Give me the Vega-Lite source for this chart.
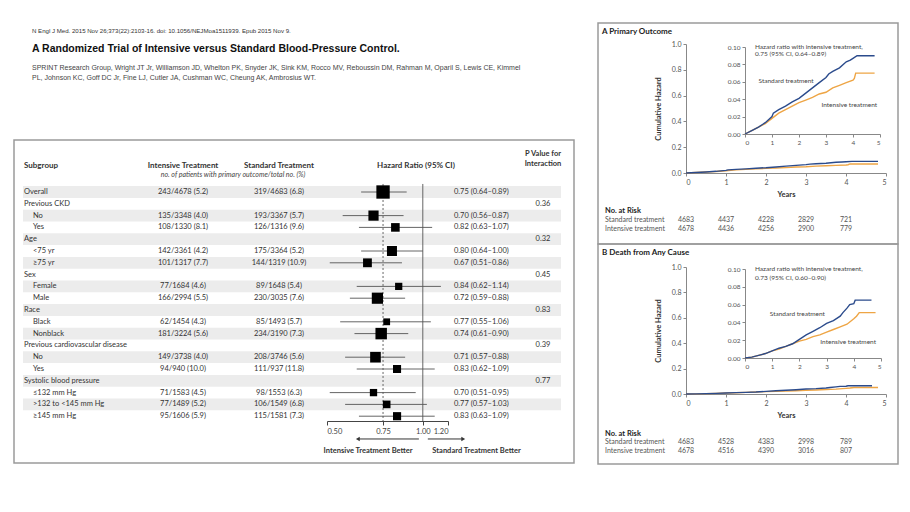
{
  "$schema": "https://vega.github.io/schema/vega-lite/v6.json",
  "background": "white",
  "padding": {"left": 13, "top": 22, "right": 0, "bottom": 0},
  "config": {
    "view": {"stroke": null},
    "axis": {"grid": false, "labelFont": "Lato", "titleFont": "Lato", "labelColor": "#555", "titleColor": "#333", "domainColor": "#888", "tickColor": "#888", "labelFontSize": 6.5, "tickSize": 3, "labelPadding": 2},
    "text": {"font": "Lato", "color": "#333"}
  },
  "datasets": {
    "forest": [
      {"i": 0, "label": "Overall", "lvl": 0, "int": "243/4678 (5.2)", "std": "319/4683 (6.8)", "hr": 0.75, "lo": 0.64, "hi": 0.89, "txt": "0.75 (0.64–0.89)", "ev": 562},
      {"i": 1, "label": "Previous CKD", "lvl": 0, "p": "0.36"},
      {"i": 2, "label": "No", "lvl": 1, "int": "135/3348 (4.0)", "std": "193/3367 (5.7)", "hr": 0.70, "lo": 0.56, "hi": 0.87, "txt": "0.70 (0.56–0.87)", "ev": 328},
      {"i": 3, "label": "Yes", "lvl": 1, "int": "108/1330 (8.1)", "std": "126/1316 (9.6)", "hr": 0.82, "lo": 0.63, "hi": 1.07, "txt": "0.82 (0.63–1.07)", "ev": 234},
      {"i": 4, "label": "Age", "lvl": 0, "p": "0.32"},
      {"i": 5, "label": "<75 yr", "lvl": 1, "int": "142/3361 (4.2)", "std": "175/3364 (5.2)", "hr": 0.80, "lo": 0.64, "hi": 1.00, "txt": "0.80 (0.64–1.00)", "ev": 317},
      {"i": 6, "label": "≥75 yr", "lvl": 1, "int": "101/1317 (7.7)", "std": "144/1319 (10.9)", "hr": 0.67, "lo": 0.51, "hi": 0.86, "txt": "0.67 (0.51–0.86)", "ev": 245},
      {"i": 7, "label": "Sex", "lvl": 0, "p": "0.45"},
      {"i": 8, "label": "Female", "lvl": 1, "int": "77/1684 (4.6)", "std": "89/1648 (5.4)", "hr": 0.84, "lo": 0.62, "hi": 1.14, "txt": "0.84 (0.62–1.14)", "ev": 166},
      {"i": 9, "label": "Male", "lvl": 1, "int": "166/2994 (5.5)", "std": "230/3035 (7.6)", "hr": 0.72, "lo": 0.59, "hi": 0.88, "txt": "0.72 (0.59–0.88)", "ev": 396},
      {"i": 10, "label": "Race", "lvl": 0, "p": "0.83"},
      {"i": 11, "label": "Black", "lvl": 1, "int": "62/1454 (4.3)", "std": "85/1493 (5.7)", "hr": 0.77, "lo": 0.55, "hi": 1.06, "txt": "0.77 (0.55–1.06)", "ev": 147},
      {"i": 12, "label": "Nonblack", "lvl": 1, "int": "181/3224 (5.6)", "std": "234/3190 (7.3)", "hr": 0.74, "lo": 0.61, "hi": 0.90, "txt": "0.74 (0.61–0.90)", "ev": 415},
      {"i": 13, "label": "Previous cardiovascular disease", "lvl": 0, "p": "0.39"},
      {"i": 14, "label": "No", "lvl": 1, "int": "149/3738 (4.0)", "std": "208/3746 (5.6)", "hr": 0.71, "lo": 0.57, "hi": 0.88, "txt": "0.71 (0.57–0.88)", "ev": 357},
      {"i": 15, "label": "Yes", "lvl": 1, "int": "94/940 (10.0)", "std": "111/937 (11.8)", "hr": 0.83, "lo": 0.62, "hi": 1.09, "txt": "0.83 (0.62–1.09)", "ev": 205},
      {"i": 16, "label": "Systolic blood pressure", "lvl": 0, "p": "0.77"},
      {"i": 17, "label": "≤132 mm Hg", "lvl": 1, "int": "71/1583 (4.5)", "std": "98/1553 (6.3)", "hr": 0.70, "lo": 0.51, "hi": 0.95, "txt": "0.70 (0.51–0.95)", "ev": 169},
      {"i": 18, "label": ">132 to <145 mm Hg", "lvl": 1, "int": "77/1489 (5.2)", "std": "106/1549 (6.8)", "hr": 0.77, "lo": 0.57, "hi": 1.03, "txt": "0.77 (0.57–1.03)", "ev": 183},
      {"i": 19, "label": "≥145 mm Hg", "lvl": 1, "int": "95/1606 (5.9)", "std": "115/1581 (7.3)", "hr": 0.83, "lo": 0.63, "hi": 1.09, "txt": "0.83 (0.63–1.09)", "ev": 210}
    ],
    "kmA": [
      {"arm": "Intensive treatment", "t": 0, "h": 0}, {"arm": "Intensive treatment", "t": 0.25, "h": 0.004}, {"arm": "Intensive treatment", "t": 0.5, "h": 0.008}, {"arm": "Intensive treatment", "t": 0.75, "h": 0.012}, {"arm": "Intensive treatment", "t": 1.0, "h": 0.018}, {"arm": "Intensive treatment", "t": 1.25, "h": 0.024}, {"arm": "Intensive treatment", "t": 1.5, "h": 0.028}, {"arm": "Intensive treatment", "t": 1.75, "h": 0.032}, {"arm": "Intensive treatment", "t": 2.0, "h": 0.036}, {"arm": "Intensive treatment", "t": 2.25, "h": 0.039}, {"arm": "Intensive treatment", "t": 2.5, "h": 0.042}, {"arm": "Intensive treatment", "t": 2.75, "h": 0.046}, {"arm": "Intensive treatment", "t": 3.0, "h": 0.048}, {"arm": "Intensive treatment", "t": 3.25, "h": 0.053}, {"arm": "Intensive treatment", "t": 3.5, "h": 0.056}, {"arm": "Intensive treatment", "t": 3.75, "h": 0.059}, {"arm": "Intensive treatment", "t": 4.0, "h": 0.062}, {"arm": "Intensive treatment", "t": 4.05, "h": 0.064}, {"arm": "Intensive treatment", "t": 4.1, "h": 0.070}, {"arm": "Intensive treatment", "t": 4.8, "h": 0.070},
      {"arm": "Standard treatment", "t": 0, "h": 0}, {"arm": "Standard treatment", "t": 0.25, "h": 0.004}, {"arm": "Standard treatment", "t": 0.5, "h": 0.008}, {"arm": "Standard treatment", "t": 0.75, "h": 0.013}, {"arm": "Standard treatment", "t": 1.0, "h": 0.020}, {"arm": "Standard treatment", "t": 1.05, "h": 0.024}, {"arm": "Standard treatment", "t": 1.25, "h": 0.028}, {"arm": "Standard treatment", "t": 1.5, "h": 0.032}, {"arm": "Standard treatment", "t": 1.75, "h": 0.037}, {"arm": "Standard treatment", "t": 2.0, "h": 0.041}, {"arm": "Standard treatment", "t": 2.25, "h": 0.047}, {"arm": "Standard treatment", "t": 2.5, "h": 0.053}, {"arm": "Standard treatment", "t": 2.75, "h": 0.059}, {"arm": "Standard treatment", "t": 3.0, "h": 0.065}, {"arm": "Standard treatment", "t": 3.1, "h": 0.069}, {"arm": "Standard treatment", "t": 3.25, "h": 0.072}, {"arm": "Standard treatment", "t": 3.5, "h": 0.076}, {"arm": "Standard treatment", "t": 3.75, "h": 0.083}, {"arm": "Standard treatment", "t": 3.9, "h": 0.085}, {"arm": "Standard treatment", "t": 4.0, "h": 0.087}, {"arm": "Standard treatment", "t": 4.15, "h": 0.090}, {"arm": "Standard treatment", "t": 4.8, "h": 0.090}
    ],
    "kmB": [
      {"arm": "Intensive treatment", "t": 0, "h": 0}, {"arm": "Intensive treatment", "t": 0.25, "h": 0.001}, {"arm": "Intensive treatment", "t": 0.5, "h": 0.003}, {"arm": "Intensive treatment", "t": 0.75, "h": 0.005}, {"arm": "Intensive treatment", "t": 1.0, "h": 0.008}, {"arm": "Intensive treatment", "t": 1.25, "h": 0.010}, {"arm": "Intensive treatment", "t": 1.5, "h": 0.013}, {"arm": "Intensive treatment", "t": 1.75, "h": 0.016}, {"arm": "Intensive treatment", "t": 2.0, "h": 0.019}, {"arm": "Intensive treatment", "t": 2.25, "h": 0.021}, {"arm": "Intensive treatment", "t": 2.5, "h": 0.024}, {"arm": "Intensive treatment", "t": 2.75, "h": 0.026}, {"arm": "Intensive treatment", "t": 3.0, "h": 0.029}, {"arm": "Intensive treatment", "t": 3.25, "h": 0.032}, {"arm": "Intensive treatment", "t": 3.5, "h": 0.035}, {"arm": "Intensive treatment", "t": 3.75, "h": 0.038}, {"arm": "Intensive treatment", "t": 4.0, "h": 0.044}, {"arm": "Intensive treatment", "t": 4.1, "h": 0.047}, {"arm": "Intensive treatment", "t": 4.2, "h": 0.051}, {"arm": "Intensive treatment", "t": 4.8, "h": 0.051},
      {"arm": "Standard treatment", "t": 0, "h": 0}, {"arm": "Standard treatment", "t": 0.25, "h": 0.001}, {"arm": "Standard treatment", "t": 0.5, "h": 0.003}, {"arm": "Standard treatment", "t": 0.75, "h": 0.005}, {"arm": "Standard treatment", "t": 1.0, "h": 0.008}, {"arm": "Standard treatment", "t": 1.25, "h": 0.011}, {"arm": "Standard treatment", "t": 1.5, "h": 0.013}, {"arm": "Standard treatment", "t": 1.75, "h": 0.016}, {"arm": "Standard treatment", "t": 2.0, "h": 0.021}, {"arm": "Standard treatment", "t": 2.25, "h": 0.026}, {"arm": "Standard treatment", "t": 2.5, "h": 0.030}, {"arm": "Standard treatment", "t": 2.75, "h": 0.034}, {"arm": "Standard treatment", "t": 3.0, "h": 0.039}, {"arm": "Standard treatment", "t": 3.25, "h": 0.042}, {"arm": "Standard treatment", "t": 3.5, "h": 0.047}, {"arm": "Standard treatment", "t": 3.6, "h": 0.051}, {"arm": "Standard treatment", "t": 3.75, "h": 0.056}, {"arm": "Standard treatment", "t": 3.85, "h": 0.060}, {"arm": "Standard treatment", "t": 4.0, "h": 0.061}, {"arm": "Standard treatment", "t": 4.05, "h": 0.065}, {"arm": "Standard treatment", "t": 4.65, "h": 0.065}
    ],
    "riskA": [
      {"arm": "Standard treatment", "t": 0, "n": "4683"}, {"arm": "Standard treatment", "t": 1, "n": "4437"}, {"arm": "Standard treatment", "t": 2, "n": "4228"}, {"arm": "Standard treatment", "t": 3, "n": "2829"}, {"arm": "Standard treatment", "t": 4, "n": "721"},
      {"arm": "Intensive treatment", "t": 0, "n": "4678"}, {"arm": "Intensive treatment", "t": 1, "n": "4436"}, {"arm": "Intensive treatment", "t": 2, "n": "4256"}, {"arm": "Intensive treatment", "t": 3, "n": "2900"}, {"arm": "Intensive treatment", "t": 4, "n": "779"}
    ],
    "riskB": [
      {"arm": "Standard treatment", "t": 0, "n": "4683"}, {"arm": "Standard treatment", "t": 1, "n": "4528"}, {"arm": "Standard treatment", "t": 2, "n": "4383"}, {"arm": "Standard treatment", "t": 3, "n": "2998"}, {"arm": "Standard treatment", "t": 4, "n": "789"},
      {"arm": "Intensive treatment", "t": 0, "n": "4678"}, {"arm": "Intensive treatment", "t": 1, "n": "4516"}, {"arm": "Intensive treatment", "t": 2, "n": "4390"}, {"arm": "Intensive treatment", "t": 3, "n": "3016"}, {"arm": "Intensive treatment", "t": 4, "n": "807"}
    ]
  },
  "hconcat": [
    {
      "vconcat": [
        {
          "width": 560, "height": 60,
          "data": {"values": [{}]},
          "layer": [
            {"mark": {"type": "text", "align": "left", "font": "Liberation Sans", "fontSize": 6.1, "color": "#333", "text": "N Engl J Med. 2015 Nov 26;373(22):2103-16. doi: 10.1056/NEJMoa1511939. Epub 2015 Nov 9."},
             "encoding": {"x": {"datum": 18, "type": "quantitative", "scale": {"domain": [0, 560], "nice": false, "zero": false}, "axis": null}, "y": {"datum": 8, "type": "quantitative", "scale": {"domain": [0, 60], "reverse": true, "nice": false, "zero": false}, "axis": null}}},
            {"mark": {"type": "text", "align": "left", "font": "Liberation Sans", "fontSize": 10.5, "fontWeight": "bold", "color": "#111", "text": "A Randomized Trial of Intensive versus Standard Blood-Pressure Control."},
             "encoding": {"x": {"datum": 18, "type": "quantitative"}, "y": {"datum": 26, "type": "quantitative"}}},
            {"mark": {"type": "text", "align": "left", "baseline": "top", "font": "Liberation Sans", "fontSize": 7, "lineHeight": 10, "color": "#444", "text": ["SPRINT Research Group, Wright JT Jr, Williamson JD, Whelton PK, Snyder JK, Sink KM, Rocco MV, Reboussin DM, Rahman M, Oparil S, Lewis CE, Kimmel", "PL, Johnson KC, Goff DC Jr, Fine LJ, Cutler JA, Cushman WC, Cheung AK, Ambrosius WT."]},
             "encoding": {"x": {"datum": 18, "type": "quantitative"}, "y": {"datum": 41, "type": "quantitative"}}}
          ]
        },
        {
          "width": 560, "height": 323,
          "view": {"stroke": "#9a9a9a", "strokeWidth": 1.5},
          "data": {"name": "forest"},
          "layer": [
            {
              "layer": [
                {"transform": [{"filter": "datum.i % 2 === 0"}],
                 "mark": {"type": "rule", "strokeWidth": 11.8, "color": "#ececec"},
                 "encoding": {"x": {"datum": 9, "type": "quantitative", "scale": {"domain": [0, 560], "nice": false, "zero": false}, "axis": null}, "x2": {"datum": 547},
                              "y": {"field": "i", "type": "quantitative", "scale": {"domain": [-4.407, 22.966], "reverse": true, "nice": false, "zero": false}, "axis": null}}},
                {"transform": [{"filter": "datum.lvl === 0"}],
                 "mark": {"type": "text", "align": "left", "fontSize": 7.5},
                 "encoding": {"x": {"datum": 10, "type": "quantitative"}, "y": {"field": "i", "type": "quantitative"}, "text": {"field": "label"}}},
                {"transform": [{"filter": "datum.lvl === 1"}],
                 "mark": {"type": "text", "align": "left", "fontSize": 7.5},
                 "encoding": {"x": {"datum": 19, "type": "quantitative"}, "y": {"field": "i", "type": "quantitative"}, "text": {"field": "label"}}},
                {"transform": [{"filter": "isValid(datum.int)"}],
                 "mark": {"type": "text", "fontSize": 7.5},
                 "encoding": {"x": {"datum": 169, "type": "quantitative"}, "y": {"field": "i", "type": "quantitative"}, "text": {"field": "int"}}},
                {"transform": [{"filter": "isValid(datum.std)"}],
                 "mark": {"type": "text", "fontSize": 7.5},
                 "encoding": {"x": {"datum": 265, "type": "quantitative"}, "y": {"field": "i", "type": "quantitative"}, "text": {"field": "std"}}},
                {"transform": [{"filter": "isValid(datum.txt)"}],
                 "mark": {"type": "text", "align": "left", "fontSize": 7.5},
                 "encoding": {"x": {"datum": 440, "type": "quantitative"}, "y": {"field": "i", "type": "quantitative"}, "text": {"field": "txt"}}},
                {"transform": [{"filter": "isValid(datum.p)"}],
                 "mark": {"type": "text", "fontSize": 7.5},
                 "encoding": {"x": {"datum": 529, "type": "quantitative"}, "y": {"field": "i", "type": "quantitative"}, "text": {"field": "p"}}},
                {"data": {"values": [{}]}, "mark": {"type": "text", "align": "left", "fontSize": 8, "fontWeight": "bold", "text": "Subgroup"},
                 "encoding": {"x": {"datum": 10, "type": "quantitative"}, "y": {"datum": -2.2, "type": "quantitative"}}},
                {"data": {"values": [{}]}, "mark": {"type": "text", "fontSize": 8, "fontWeight": "bold", "text": "Intensive Treatment"},
                 "encoding": {"x": {"datum": 169, "type": "quantitative"}, "y": {"datum": -2.2, "type": "quantitative"}}},
                {"data": {"values": [{}]}, "mark": {"type": "text", "fontSize": 8, "fontWeight": "bold", "text": "Standard Treatment"},
                 "encoding": {"x": {"datum": 265, "type": "quantitative"}, "y": {"datum": -2.2, "type": "quantitative"}}},
                {"data": {"values": [{}]}, "mark": {"type": "text", "fontSize": 8, "fontWeight": "bold", "text": "Hazard Ratio (95% CI)"},
                 "encoding": {"x": {"datum": 402, "type": "quantitative"}, "y": {"datum": -2.2, "type": "quantitative"}}},
                {"data": {"values": [{}]}, "mark": {"type": "text", "fontSize": 7.5, "fontWeight": "bold", "text": "P Value for"},
                 "encoding": {"x": {"datum": 529, "type": "quantitative"}, "y": {"datum": -3.2, "type": "quantitative"}}},
                {"data": {"values": [{}]}, "mark": {"type": "text", "fontSize": 7.5, "fontWeight": "bold", "text": "Interaction"},
                 "encoding": {"x": {"datum": 529, "type": "quantitative"}, "y": {"datum": -2.4, "type": "quantitative"}}},
                {"data": {"values": [{}]}, "mark": {"type": "text", "fontSize": 7, "fontStyle": "italic", "color": "#444", "text": "no. of patients with primary outcome/total no. (%)"},
                 "encoding": {"x": {"datum": 219, "type": "quantitative"}, "y": {"datum": -1.44, "type": "quantitative"}}}
              ]
            },
            {
              "layer": [
                {"transform": [{"filter": "isValid(datum.hr)"}],
                 "mark": {"type": "rule", "color": "#555", "strokeWidth": 0.9},
                 "encoding": {
                   "x": {"field": "lo", "type": "quantitative", "scale": {"type": "log", "domain": [0.5, 1.2], "range": [313, 434], "nice": false},
                         "axis": {"orient": "bottom", "offset": -42, "values": [0.5, 0.75, 1, 1.2], "format": ".2f", "title": null, "tickSize": 4, "labelFontSize": 7.5, "labelColor": "#444", "domainColor": "#444", "tickColor": "#444"}},
                   "x2": {"field": "hi"},
                   "y": {"field": "i", "type": "quantitative"}}},
                {"data": {"values": [{}]}, "mark": {"type": "rule", "color": "#555", "strokeWidth": 0.9},
                 "encoding": {"x": {"datum": 1, "type": "quantitative"}, "y": {"datum": -0.68, "type": "quantitative"}, "y2": {"datum": 19.41}}},
                {"data": {"values": [{}]}, "mark": {"type": "rule", "color": "#555", "strokeWidth": 0.9, "strokeDash": [2, 2]},
                 "encoding": {"x": {"datum": 0.75, "type": "quantitative"}, "y": {"datum": -0.68, "type": "quantitative"}, "y2": {"datum": 19.41}}},
                {"transform": [{"filter": "isValid(datum.hr)"}],
                 "mark": {"type": "point", "shape": "square", "filled": true, "color": "#000", "opacity": 1},
                 "encoding": {"x": {"field": "hr", "type": "quantitative"}, "y": {"field": "i", "type": "quantitative"},
                              "size": {"field": "ev", "type": "quantitative", "scale": {"domain": [0, 600], "range": [0, 190]}, "legend": null}}},
                {"data": {"values": [{}]}, "mark": {"type": "rule", "color": "#333", "strokeWidth": 1},
                 "encoding": {"x": {"datum": 0.63, "type": "quantitative"}, "x2": {"datum": 0.972}, "y": {"datum": 20.93, "type": "quantitative"}}},
                {"data": {"values": [{}]}, "mark": {"type": "rule", "color": "#333", "strokeWidth": 1},
                 "encoding": {"x": {"datum": 1.037, "type": "quantitative"}, "x2": {"datum": 1.33}, "y": {"datum": 20.93, "type": "quantitative"}}},
                {"data": {"values": [{}]}, "mark": {"type": "point", "shape": "triangle-left", "filled": true, "color": "#333", "size": 20, "opacity": 1},
                 "encoding": {"x": {"datum": 0.625, "type": "quantitative"}, "y": {"datum": 20.93, "type": "quantitative"}}},
                {"data": {"values": [{}]}, "mark": {"type": "point", "shape": "triangle-right", "filled": true, "color": "#333", "size": 20, "opacity": 1},
                 "encoding": {"x": {"datum": 1.34, "type": "quantitative"}, "y": {"datum": 20.93, "type": "quantitative"}}},
                {"data": {"values": [{}]}, "mark": {"type": "text", "fontSize": 7.5, "fontWeight": "bold", "text": "Intensive Treatment Better"},
                 "encoding": {"x": {"datum": 0.673, "type": "quantitative"}, "y": {"datum": 21.95, "type": "quantitative"}}},
                {"data": {"values": [{}]}, "mark": {"type": "text", "fontSize": 7.5, "fontWeight": "bold", "text": "Standard Treatment Better"},
                 "encoding": {"x": {"datum": 1.475, "type": "quantitative"}, "y": {"datum": 21.95, "type": "quantitative"}}}
              ]
            }
          ],
          "resolve": {"scale": {"x": "independent"}, "axis": {"x": "independent"}}
        }
      ],
      "spacing": 57,
      "bounds": "flush"
    },
    {
      "vconcat": [
        {
          "width": 300, "height": 221,
          "view": {"stroke": "#9a9a9a", "strokeWidth": 1.5},
          "layer": [
            {
              "layer": [
                {"data": {"name": "kmA"}, "mark": {"type": "line", "strokeWidth": 1.4},
                 "encoding": {
                   "x": {"field": "t", "type": "quantitative", "scale": {"domain": [0, 5], "range": [88, 288], "nice": false, "zero": false},
                         "axis": {"orient": "bottom", "offset": -71, "values": [0, 1, 2, 3, 4, 5], "format": "d", "title": "Years", "titleFontWeight": "bold", "titleFontSize": 7.5, "titlePadding": 5, "labelFontSize": 7}},
                   "y": {"field": "h", "type": "quantitative", "scale": {"domain": [0, 1], "range": [150, 21], "nice": false, "zero": false},
                         "axis": {"orient": "left", "offset": -88, "values": [0, 0.2, 0.4, 0.6, 0.8, 1], "format": ".1f", "title": "Cumulative Hazard", "titleFontWeight": "bold", "titleFontSize": 7.5, "titlePadding": 9, "labelFontSize": 7}},
                   "color": {"field": "arm", "type": "nominal", "scale": {"domain": ["Standard treatment", "Intensive treatment"], "range": ["#2b4b8c", "#eea545"]}, "legend": null}}},
                {"data": {"name": "riskA"}, "mark": {"type": "text", "fontSize": 7, "color": "#555"},
                 "encoding": {"x": {"field": "t", "type": "quantitative"},
                              "y": {"field": "arm", "type": "nominal", "scale": {"domain": ["Standard treatment", "Intensive treatment"], "range": [197, 206], "padding": 0}, "axis": null},
                              "text": {"field": "n", "type": "nominal"}}}
              ],
              "resolve": {"scale": {"y": "independent"}, "axis": {"y": "independent"}}
            },
            {
              "layer": [
                {"data": {"name": "kmA"}, "mark": {"type": "line", "strokeWidth": 1.4},
                 "encoding": {
                   "x": {"field": "t", "type": "quantitative", "scale": {"domain": [0, 5], "range": [147, 282], "nice": false, "zero": false},
                         "axis": {"orient": "bottom", "offset": -110, "values": [0, 1, 2, 3, 4, 5], "format": "d", "title": null}},
                   "y": {"field": "h", "type": "quantitative", "scale": {"domain": [0, 0.1], "range": [111, 24], "nice": false, "zero": false},
                         "axis": {"orient": "left", "offset": -147, "values": [0, 0.02, 0.04, 0.06, 0.08, 0.1], "format": ".2f", "title": null}},
                   "color": {"field": "arm", "type": "nominal", "legend": null}}},
                {"data": {"values": [{}]}, "mark": {"type": "text", "align": "left", "fontSize": 6.5, "color": "#444", "text": "Hazard ratio with intensive treatment,"},
                 "encoding": {"x": {"datum": 0.37, "type": "quantitative"}, "y": {"datum": 0.1, "type": "quantitative"}}},
                {"data": {"values": [{}]}, "mark": {"type": "text", "align": "left", "fontSize": 6.5, "color": "#444", "text": "0.75 (95% CI, 0.64–0.89)"},
                 "encoding": {"x": {"datum": 0.37, "type": "quantitative"}, "y": {"datum": 0.0915, "type": "quantitative"}}},
                {"data": {"values": [{}]}, "mark": {"type": "text", "align": "left", "fontSize": 6.5, "color": "#444", "text": "Standard treatment"},
                 "encoding": {"x": {"datum": 0.5, "type": "quantitative"}, "y": {"datum": 0.061, "type": "quantitative"}}},
                {"data": {"values": [{}]}, "mark": {"type": "text", "align": "left", "fontSize": 6.5, "color": "#444", "text": "Intensive treatment"},
                 "encoding": {"x": {"datum": 2.83, "type": "quantitative"}, "y": {"datum": 0.0335, "type": "quantitative"}}}
              ]
            },
            {
              "data": {"values": [{}]},
              "layer": [
                {"mark": {"type": "text", "align": "left", "fontSize": 8, "fontWeight": "bold", "color": "#222", "text": "A  Primary Outcome"},
                 "encoding": {"x": {"datum": 4, "type": "quantitative", "scale": {"domain": [0, 300], "nice": false, "zero": false}, "axis": null},
                              "y": {"datum": 9, "type": "quantitative", "scale": {"domain": [0, 221], "reverse": true, "nice": false, "zero": false}, "axis": null}}},
                {"mark": {"type": "text", "align": "left", "fontSize": 7.5, "fontWeight": "bold", "color": "#222", "text": "No. at Risk"},
                 "encoding": {"x": {"datum": 7, "type": "quantitative"}, "y": {"datum": 188, "type": "quantitative"}}},
                {"mark": {"type": "text", "align": "left", "fontSize": 7, "color": "#555", "text": "Standard treatment"},
                 "encoding": {"x": {"datum": 7, "type": "quantitative"}, "y": {"datum": 197, "type": "quantitative"}}},
                {"mark": {"type": "text", "align": "left", "fontSize": 7, "color": "#555", "text": "Intensive treatment"},
                 "encoding": {"x": {"datum": 7, "type": "quantitative"}, "y": {"datum": 206, "type": "quantitative"}}}
              ]
            }
          ],
          "resolve": {"scale": {"x": "independent", "y": "independent"}, "axis": {"x": "independent", "y": "independent"}}
        },
        {
          "width": 300, "height": 220,
          "view": {"stroke": "#9a9a9a", "strokeWidth": 1.5},
          "layer": [
            {
              "layer": [
                {"data": {"name": "kmB"}, "mark": {"type": "line", "strokeWidth": 1.4},
                 "encoding": {
                   "x": {"field": "t", "type": "quantitative", "scale": {"domain": [0, 5], "range": [88, 288], "nice": false, "zero": false},
                         "axis": {"orient": "bottom", "offset": -70, "values": [0, 1, 2, 3, 4, 5], "format": "d", "title": "Years", "titleFontWeight": "bold", "titleFontSize": 7.5, "titlePadding": 5, "labelFontSize": 7}},
                   "y": {"field": "h", "type": "quantitative", "scale": {"domain": [0, 1], "range": [150, 23], "nice": false, "zero": false},
                         "axis": {"orient": "left", "offset": -88, "values": [0, 0.2, 0.4, 0.6, 0.8, 1], "format": ".1f", "title": "Cumulative Hazard", "titleFontWeight": "bold", "titleFontSize": 7.5, "titlePadding": 9, "labelFontSize": 7}},
                   "color": {"field": "arm", "type": "nominal", "scale": {"domain": ["Standard treatment", "Intensive treatment"], "range": ["#2b4b8c", "#eea545"]}, "legend": null}}},
                {"data": {"name": "riskB"}, "mark": {"type": "text", "fontSize": 7, "color": "#555"},
                 "encoding": {"x": {"field": "t", "type": "quantitative"},
                              "y": {"field": "arm", "type": "nominal", "scale": {"domain": ["Standard treatment", "Intensive treatment"], "range": [198, 207], "padding": 0}, "axis": null},
                              "text": {"field": "n", "type": "nominal"}}}
              ],
              "resolve": {"scale": {"y": "independent"}, "axis": {"y": "independent"}}
            },
            {
              "layer": [
                {"data": {"name": "kmB"}, "mark": {"type": "line", "strokeWidth": 1.4},
                 "encoding": {
                   "x": {"field": "t", "type": "quantitative", "scale": {"domain": [0, 5], "range": [147, 283], "nice": false, "zero": false},
                         "axis": {"orient": "bottom", "offset": -106, "values": [0, 1, 2, 3, 4, 5], "format": "d", "title": null}},
                   "y": {"field": "h", "type": "quantitative", "scale": {"domain": [0, 0.1], "range": [114, 25], "nice": false, "zero": false},
                         "axis": {"orient": "left", "offset": -147, "values": [0, 0.02, 0.04, 0.06, 0.08, 0.1], "format": ".2f", "title": null}},
                   "color": {"field": "arm", "type": "nominal", "legend": null}}},
                {"data": {"values": [{}]}, "mark": {"type": "text", "align": "left", "fontSize": 6.5, "color": "#444", "text": "Hazard ratio with intensive treatment,"},
                 "encoding": {"x": {"datum": 0.365, "type": "quantitative"}, "y": {"datum": 0.1, "type": "quantitative"}}},
                {"data": {"values": [{}]}, "mark": {"type": "text", "align": "left", "fontSize": 6.5, "color": "#444", "text": "0.73 (95% CI, 0.60–0.90)"},
                 "encoding": {"x": {"datum": 0.365, "type": "quantitative"}, "y": {"datum": 0.0894, "type": "quantitative"}}},
                {"data": {"values": [{}]}, "mark": {"type": "text", "align": "left", "fontSize": 6.5, "color": "#444", "text": "Standard treatment"},
                 "encoding": {"x": {"datum": 0.91, "type": "quantitative"}, "y": {"datum": 0.05, "type": "quantitative"}}},
                {"data": {"values": [{}]}, "mark": {"type": "text", "align": "left", "fontSize": 6.5, "color": "#444", "text": "Intensive treatment"},
                 "encoding": {"x": {"datum": 2.77, "type": "quantitative"}, "y": {"datum": 0.0176, "type": "quantitative"}}}
              ]
            },
            {
              "data": {"values": [{}]},
              "layer": [
                {"mark": {"type": "text", "align": "left", "fontSize": 8, "fontWeight": "bold", "color": "#222", "text": "B  Death from Any Cause"},
                 "encoding": {"x": {"datum": 4, "type": "quantitative", "scale": {"domain": [0, 300], "nice": false, "zero": false}, "axis": null},
                              "y": {"datum": 9, "type": "quantitative", "scale": {"domain": [0, 220], "reverse": true, "nice": false, "zero": false}, "axis": null}}},
                {"mark": {"type": "text", "align": "left", "fontSize": 7.5, "fontWeight": "bold", "color": "#222", "text": "No. at Risk"},
                 "encoding": {"x": {"datum": 7, "type": "quantitative"}, "y": {"datum": 190, "type": "quantitative"}}},
                {"mark": {"type": "text", "align": "left", "fontSize": 7, "color": "#555", "text": "Standard treatment"},
                 "encoding": {"x": {"datum": 7, "type": "quantitative"}, "y": {"datum": 198, "type": "quantitative"}}},
                {"mark": {"type": "text", "align": "left", "fontSize": 7, "color": "#555", "text": "Intensive treatment"},
                 "encoding": {"x": {"datum": 7, "type": "quantitative"}, "y": {"datum": 207, "type": "quantitative"}}}
              ]
            }
          ],
          "resolve": {"scale": {"x": "independent", "y": "independent"}, "axis": {"x": "independent", "y": "independent"}}
        }
      ],
      "spacing": 0,
      "bounds": "flush"
    }
  ],
  "spacing": 22
}
